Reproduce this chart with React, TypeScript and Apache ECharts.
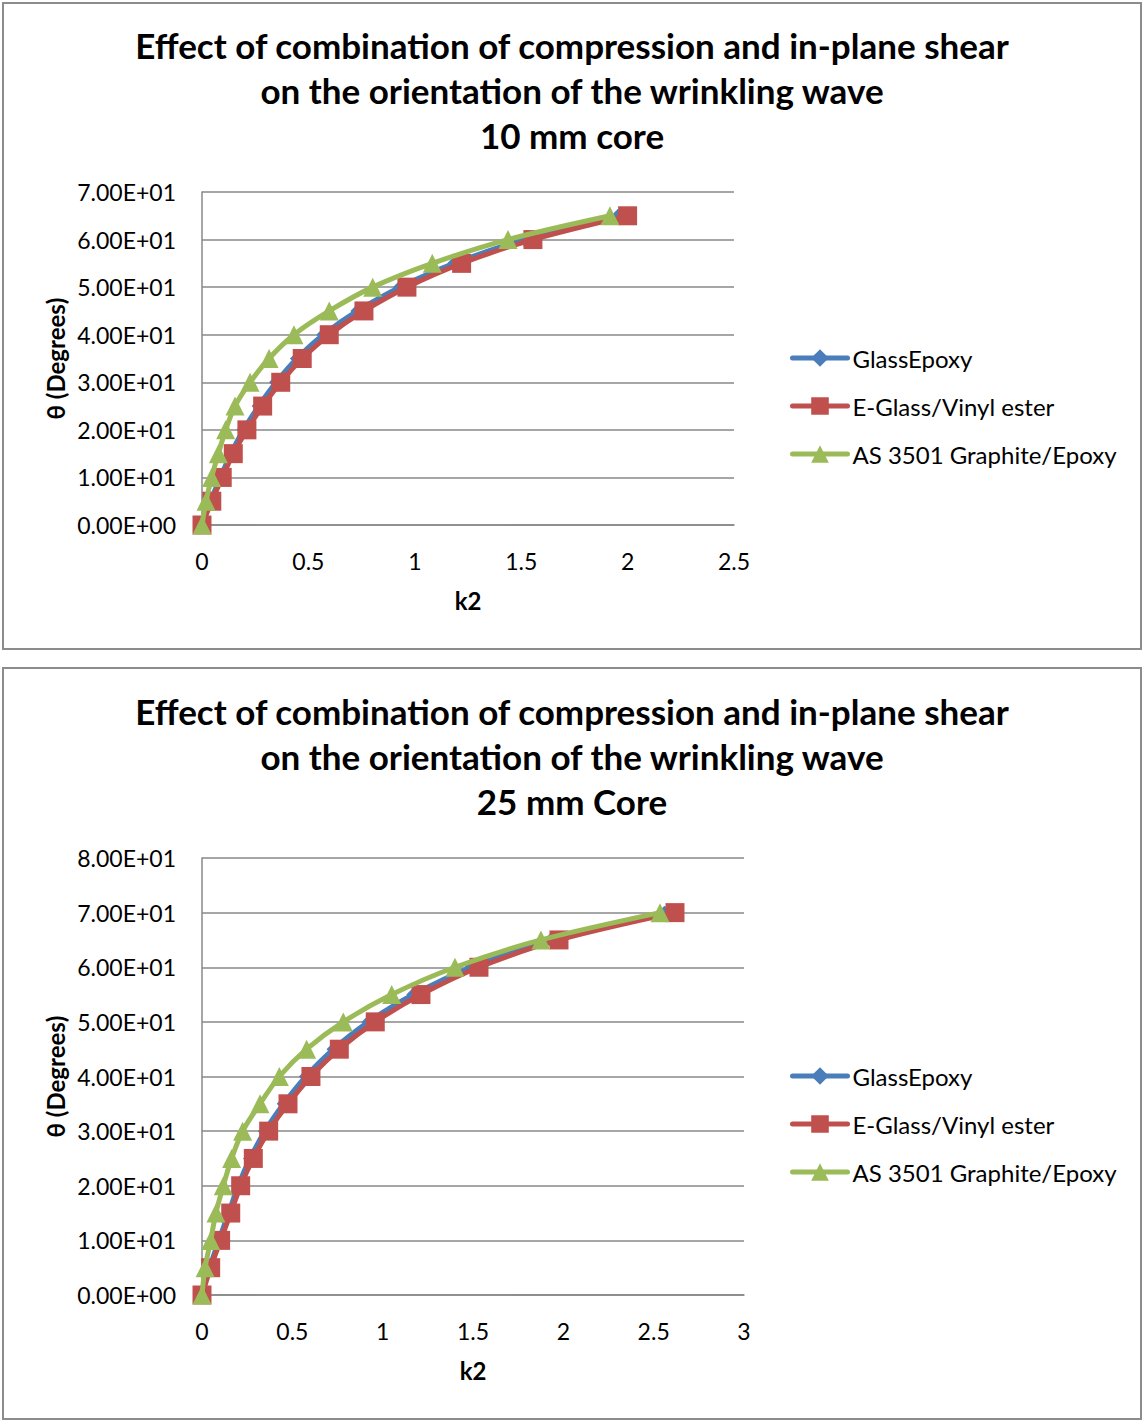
import React, { useEffect, useRef } from "react";
import * as echarts from "echarts";

const seriesNames = ["GlassEpoxy", "E-Glass/Vinyl ester", "AS 3501 Graphite/Epoxy"];

// Chart 1: 10 mm core
const theta10 = [0, 5, 10, 15, 20, 25, 30, 35, 40, 45, 50, 55, 60, 65];
const glass10 = [0, 0.040, 0.086, 0.136, 0.195, 0.266, 0.348, 0.446, 0.570, 0.730, 0.930, 1.185, 1.515, 1.955];
const vinyl10 = [0, 0.046, 0.095, 0.147, 0.211, 0.285, 0.370, 0.471, 0.598, 0.761, 0.963, 1.220, 1.555, 2.000];
const graphite10 = [0, 0.019, 0.045, 0.077, 0.111, 0.155, 0.226, 0.315, 0.432, 0.598, 0.802, 1.082, 1.438, 1.917];

// Chart 2: 25 mm core
const theta25 = [0, 5, 10, 15, 20, 25, 30, 35, 40, 45, 50, 55, 60, 65, 70];
const glass25 = [0, 0.042, 0.093, 0.147, 0.200, 0.266, 0.348, 0.452, 0.575, 0.728, 0.922, 1.170, 1.490, 1.930, 2.560];
const vinyl25 = [0, 0.048, 0.103, 0.159, 0.214, 0.284, 0.369, 0.476, 0.603, 0.760, 0.959, 1.212, 1.533, 1.976, 2.618];
const graphite25 = [0, 0.017, 0.048, 0.077, 0.118, 0.164, 0.225, 0.321, 0.428, 0.579, 0.782, 1.050, 1.400, 1.876, 2.535];

const title1 = "Effect of combination of compression and in-plane shear\non the orientation of the wrinkling wave\n10 mm core";
const title2 = "Effect of combination of compression and in-plane shear\non the orientation of the wrinkling wave\n25 mm Core";
const yName = "θ (Degrees)";
const xName = "k2";

const BLUE = "#4A7EBB";
const RED = "#C0504D";
const GREEN = "#9BBB59";
const GRID = "#888888";
const FONT = "Lato";

function fmtExp(v: number): string {
  if (v === 0) return "0.00E+00";
  const e = Math.floor(Math.log10(Math.abs(v)));
  const m = v / Math.pow(10, e);
  return m.toFixed(2) + "E" + (e >= 0 ? "+" : "-") + String(Math.abs(e)).padStart(2, "0");
}

function zip(xs: number[], ys: number[]) {
  return xs.map((x, i) => [x, ys[i]]);
}

export default function App() {
  const ref = useRef<HTMLDivElement>(null);
  useEffect(() => {
    if (!ref.current) return;
    const chart = echarts.init(ref.current, null, { renderer: "svg" });
    const axisText = { fontSize: 23, color: "#000", fontFamily: FONT };
    const nameText = { fontSize: 24, fontWeight: "bold" as const, color: "#000", fontFamily: FONT };
    const mkX = (gi: number, max: number) => ({
      type: "value", gridIndex: gi, min: 0, max, interval: 0.5,
      axisLine: { show: true, lineStyle: { color: GRID, width: 1.5 } },
      axisTick: { show: false },
      splitLine: { show: false },
      axisLabel: { ...axisText, margin: 24 },
      name: xName, nameLocation: "middle", nameGap: 63, nameTextStyle: nameText,
    });
    const mkY = (gi: number, max: number) => ({
      type: "value", gridIndex: gi, min: 0, max, interval: 10,
      axisLine: { show: true, lineStyle: { color: GRID, width: 1.5 } },
      axisTick: { show: false },
      splitLine: { show: true, lineStyle: { color: GRID, width: 1.5 } },
      axisLabel: { ...axisText, margin: 26, formatter: (v: number) => fmtExp(v) },
      name: yName, nameLocation: "middle", nameGap: 135, nameRotate: 90, nameTextStyle: nameText,
    });
    const mkSeries = (name: string, xs: number[], ys: number[], gi: number, color: string, symbol: string, size: number, z: number) => ({
      name, type: "line", xAxisIndex: gi, yAxisIndex: gi,
      data: zip(xs, ys), smooth: 0.3, symbol, symbolSize: size, z,
      lineStyle: { width: 5, color, cap: "round", join: "round" }, itemStyle: { color },
    });
    const legendBase = {
      orient: "vertical", left: 785, itemWidth: 55, itemHeight: 22, itemGap: 24,
      textStyle: { fontSize: 24, color: "#000", fontFamily: FONT },
      lineStyle: { width: 5, cap: "round" },
      data: seriesNames,
    };
    const titleStyle = { fontSize: 35, fontWeight: "bold", lineHeight: 45, color: "#000", fontFamily: FONT };
    chart.setOption({
      animation: false,
      backgroundColor: "#fff",
      title: [
        { text: title1, left: "center", top: 17, textStyle: titleStyle },
        { text: title2, left: "center", top: 683, textStyle: titleStyle },
      ],
      legend: [
        { ...legendBase, top: 341 },
        { ...legendBase, top: 1059 },
      ],
      grid: [
        { left: 202, top: 192, width: 532, height: 333 },
        { left: 202, top: 858, width: 542, height: 437 },
      ],
      xAxis: [mkX(0, 2.5), mkX(1, 3)],
      yAxis: [mkY(0, 70), mkY(1, 80)],
      series: [
        mkSeries(seriesNames[0], glass10, theta10, 0, BLUE, "diamond", 14, 2),
        mkSeries(seriesNames[1], vinyl10, theta10, 0, RED, "rect", 19, 3),
        mkSeries(seriesNames[2], graphite10, theta10, 0, GREEN, "triangle", 19, 4),
        mkSeries(seriesNames[0], glass25, theta25, 1, BLUE, "diamond", 14, 2),
        mkSeries(seriesNames[1], vinyl25, theta25, 1, RED, "rect", 19, 3),
        mkSeries(seriesNames[2], graphite25, theta25, 1, GREEN, "triangle", 19, 4),
      ],
      graphic: [
        { type: "rect", shape: { x: 3, y: 3, width: 1138, height: 646 }, style: { fill: "none", stroke: "#8C8C8C", lineWidth: 2 }, silent: true },
        { type: "rect", shape: { x: 3, y: 668, width: 1138, height: 751 }, style: { fill: "none", stroke: "#8C8C8C", lineWidth: 2 }, silent: true },
      ],
    });
    return () => chart.dispose();
  }, []);
  return <div ref={ref} style={{ position: "absolute", left: 0, top: 0, width: 1144, height: 1426 }} />;
}
